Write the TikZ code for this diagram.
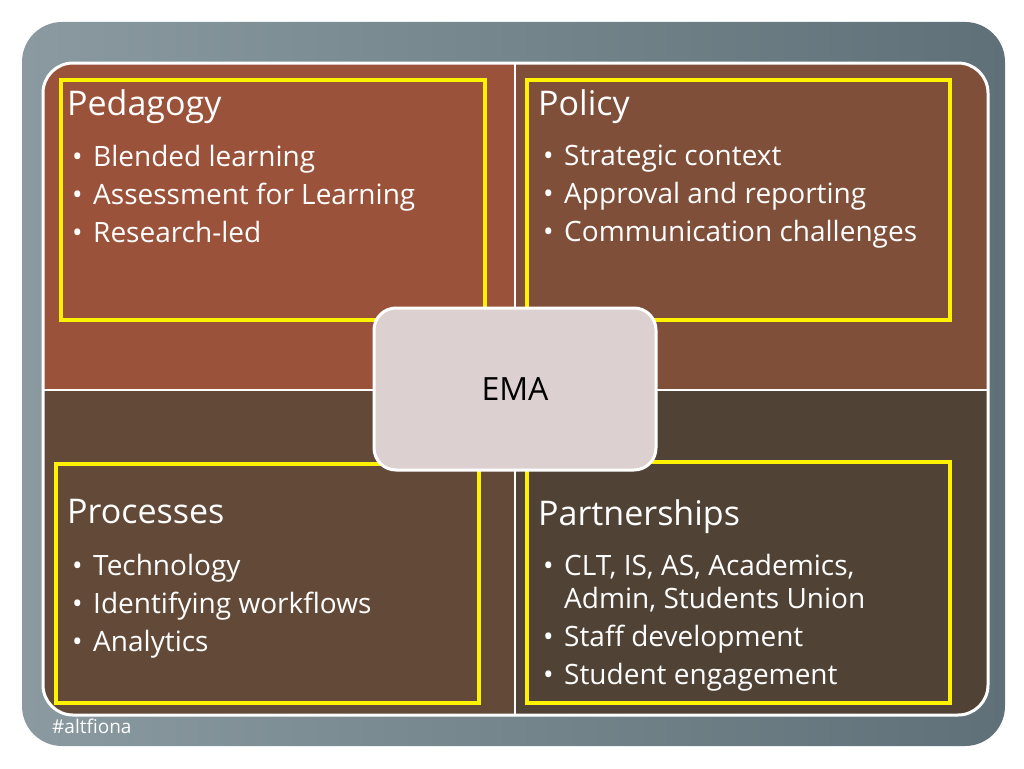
\documentclass[tikz,border=0pt]{standalone}
\usepackage{fontspec}
\setmainfont{Open Sans}
\definecolor{qa}{HTML}{9B523A}
\definecolor{qb}{HTML}{7F4F3A}
\definecolor{qc}{HTML}{634A38}
\definecolor{qd}{HTML}{504336}
\definecolor{ctr}{HTML}{DDD0D0}
\definecolor{bgA}{HTML}{8A9AA0}
\definecolor{bgB}{HTML}{5F7078}
\newcommand{\bl}{\makebox[21pt][l]{•}}
\tikzset{hl/.style={draw=yellow,line width=3.5pt},
 ttl/.style={anchor=north west,font=\fontsize{34}{38}\selectfont,text=white,inner sep=0pt},
 lst/.style={anchor=north west,font=\fontsize{28}{38}\selectfont,text=white,inner sep=0pt,align=left}}
\begin{document}
\begin{tikzpicture}[x=1pt,y=-1pt]
\useasboundingbox (0,0) rectangle (1024,768);
\fill[white] (0,0) rectangle (1024,768);
\shade[left color=bgA,right color=bgB,rounded corners=40pt] (22,22) rectangle (1005,746);
\begin{scope}
\clip[rounded corners=30pt] (43,63) rectangle (988,715);
\fill[qa] (43,63) rectangle (515,390);
\fill[qb] (515,63) rectangle (988,390);
\fill[qc] (43,390) rectangle (515,715);
\fill[qd] (515,390) rectangle (988,715);
\draw[white,line width=2.5pt] (515,63) -- (515,715) (43,390) -- (988,390);
\end{scope}
\draw[white,line width=3pt,rounded corners=30pt] (43,63) rectangle (988,715);
\draw[hl] (61,80) rectangle (485,320);
\draw[hl] (527,80) rectangle (950,320);
\draw[hl] (56,464) rectangle (479,703);
\draw[hl] (527,462) rectangle (950,703);
\node[fill=ctr,draw=white,line width=3pt,rounded corners=22pt,minimum width=282pt,minimum height=162pt,font=\fontsize{32}{36}\selectfont] (ema) at (515,389) {EMA};
\node[ttl] (t1) at (67,89) {Pedagogy};
\node[lst] (l1) at (72,145) {\bl Blended learning\\\bl Assessment for Learning\\\bl Research-led};
\node[ttl] (t2) at (538,89) {Policy};
\node[lst] (l2) at (543,145) {\bl Strategic context\\\bl Approval and reporting\\\bl Communication challenges};
\node[ttl] (t3) at (67,499) {Processes};
\node[lst] (l3) at (72,554) {\bl Technology\\\bl Identifying workflows\\\bl Analytics};
\node[ttl] (t4) at (538,499) {Partnerships};
\node[lst] (l4) at (543,554) {\bl CLT, IS, AS, Academics,\\\hspace*{21pt}\raisebox{5pt}{Admin, Students Union}\\[-5pt]\bl Staff development\\\bl Student engagement};
\node[anchor=west,font=\fontsize{19}{20}\selectfont,text=white,inner sep=0pt] (tag) at (52,726) {\#altfiona};
\end{tikzpicture}
\end{document}
